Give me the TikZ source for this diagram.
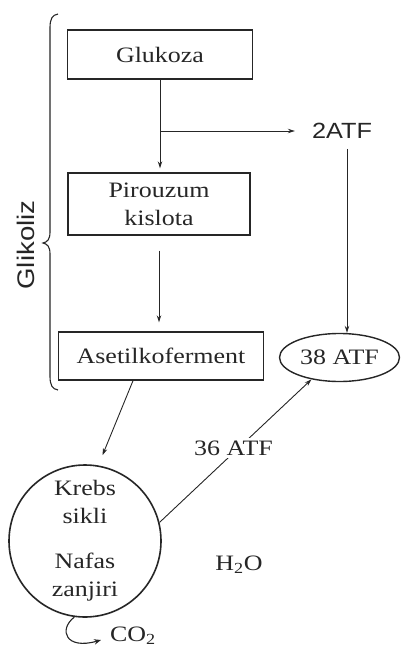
\documentclass[tikz,border=0pt]{standalone}
\usepackage{fontspec}
\setmainfont{Liberation Serif}[FakeStretch=1.18]
\setsansfont{Liberation Sans}[FakeStretch=1.15]
\usetikzlibrary{arrows.meta,shapes.geometric}

\begin{document}
\begin{tikzpicture}[x=1pt,y=-1pt,
  ink/.style={draw=black!85},
  txt/.style={font=\fontsize{22}{28}\selectfont, text=black!85, inner sep=0pt},
  sanstxt/.style={font=\sffamily\fontsize{22}{26}\selectfont, text=black!85, inner sep=0pt},
  stagebox/.style={txt, ink, line width=1.4pt, rectangle, align=center},
  flow/.style={ink, line width=0.9pt, -{Stealth[length=7pt,width=4.5pt]}}
]
\useasboundingbox (0,0) rectangle (401,648);

% glycolysis chain
\node[stagebox, minimum width=185pt, minimum height=49pt] (glu) at (160,54.5) {Glukoza};
\node[stagebox, minimum width=182pt, minimum height=62pt] (pir) at (159,204) {Pirouzum\\kislota};
\node[stagebox, minimum width=205pt, minimum height=48pt] (ase) at (161,356) {Asetilkoferment};

% energy yield
\node[sanstxt] (atf2) at (342,131) {2ATF};
\node[txt, ink, ellipse, line width=1.4pt, minimum width=120pt, minimum height=48pt] (atf38) at (339.5,357.5) {38 ATF};

% Krebs cycle and respiratory chain
\node[txt, ink, circle, line width=1.6pt, minimum size=152pt, align=center] (krebs) at (85,541)
  {Krebs\\sikli\\[17pt]Nafas\\zanjiri};
\node[txt] (h2o) at (239,565) {H\textsubscript{2}O};
\node[txt] (co2) at (133,636) {CO\textsubscript{2}};

% brace label
\node[sanstxt, font=\sffamily\fontsize{24}{28}\selectfont, rotate=90] (glik) at (26,245) {Glikoliz};
\draw[ink, line width=1.1pt] (58,14) .. controls (52,15) and (50,19) .. (50,28) -- (50,232)
  .. controls (50,240) and (47,242) .. (43,243) .. controls (47,244) and (50,246) .. (50,254)
  -- (50,376) .. controls (50,385) and (52,389) .. (58,390);

% connectors
\draw[flow, shorten >=4pt] (glu.south) -- (glu.south |- pir.north);
\coordinate (br) at (glu.south |- atf2);
\draw[flow, shorten >=17pt] (br) -- (atf2.west);
\draw[flow, shorten <=15pt, shorten >=9pt] (pir.south) -- (pir.south |- ase.north);
\draw[flow, shorten <=10pt] ([xshift=5pt]atf2.south) -- ([xshift=5pt]atf2.south |- atf38.north);
\draw[flow, shorten >=11pt] ([xshift=-28pt]ase.south) -- (krebs.80);
\draw[flow] (krebs.14) -- node[txt, fill=white, inner sep=3pt, pos=0.52, xshift=-5pt] (atf36) {36 ATF} (atf38.218);
\draw[ink, line width=1.1pt, -{Stealth[length=7pt,width=5.5pt]}] (krebs.262)
  .. controls (58,630) and (66,650) .. (101,640);
\end{tikzpicture}
\end{document}
